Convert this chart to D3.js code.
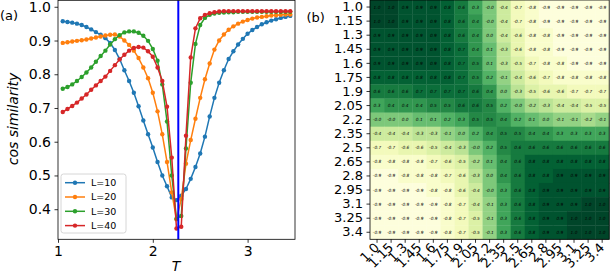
<!DOCTYPE html>
<html><head><meta charset="utf-8">
<script src="https://cdn.jsdelivr.net/npm/d3@7"></script>
<style>body{margin:0;background:#fff}svg{display:block;font-family:"DejaVu Sans",sans-serif}</style>
</head><body><svg id="c" width="610" height="278"></svg>
<script>
// ---------- panel (a) data ----------
const T = [1.05,1.10,1.15,1.20,1.25,1.30,1.35,1.40,1.45,1.50,1.55,1.60,1.65,1.70,1.75,1.80,1.85,1.90,1.95,2.00,
           2.05,2.10,2.15,2.20,2.25,2.30,2.35,2.40,2.45,2.50,2.55,2.60,2.65,2.70,2.75,2.80,2.85,2.90,2.95,3.00,
           3.05,3.10,3.15,3.20,3.25,3.30,3.35,3.40,3.45];
const L10 = [0.957,0.955,0.953,0.950,0.946,0.940,0.933,0.925,0.917,0.907,0.893,0.872,0.845,0.812,0.780,0.745,0.705,0.663,0.622,0.583,
             0.540,0.500,0.468,0.435,0.427,0.440,0.460,0.490,0.525,0.565,0.615,0.675,0.730,0.775,0.812,0.845,0.868,0.888,0.905,0.920,
             0.931,0.940,0.948,0.954,0.959,0.963,0.967,0.970,0.973];
const L20 = [0.893,0.895,0.897,0.899,0.901,0.903,0.906,0.909,0.912,0.915,0.917,0.918,0.912,0.900,0.887,0.870,0.848,0.820,0.788,0.745,
             0.690,0.622,0.540,0.450,0.370,0.430,0.535,0.605,0.668,0.730,0.785,0.832,0.873,0.900,0.918,0.932,0.942,0.950,0.956,0.961,
             0.965,0.968,0.970,0.972,0.974,0.975,0.976,0.977,0.977];
const L30 = [0.757,0.762,0.770,0.780,0.792,0.805,0.820,0.837,0.854,0.870,0.888,0.904,0.916,0.924,0.927,0.927,0.923,0.914,0.899,0.875,
             0.840,0.770,0.660,0.500,0.372,0.380,0.580,0.775,0.890,0.946,0.967,0.976,0.980,0.982,0.983,0.984,0.984,0.985,0.985,0.985,
             0.985,0.985,0.985,0.985,0.985,0.985,0.985,0.985,0.985];
const L40 = [0.688,0.697,0.706,0.716,0.728,0.740,0.754,0.767,0.780,0.793,0.810,0.827,0.844,0.858,0.870,0.878,0.881,0.879,0.868,0.852,
             0.820,0.780,0.704,0.553,0.343,0.348,0.618,0.850,0.936,0.966,0.976,0.981,0.984,0.986,0.987,0.987,0.987,0.987,0.987,0.987,
             0.987,0.987,0.987,0.987,0.987,0.987,0.987,0.987,0.987];
const seriesNames = ["L=10","L=20","L=30","L=40"];
const seriesColors = ["#1f77b4","#ff7f0e","#2ca02c","#d62728"];
const Tc = 2.269;
const xTicksA = [1,2,3];
const yTicksA = [0.4,0.5,0.6,0.7,0.8,0.9,1.0];

// ---------- panel (b) data ----------
const hmLabels = ["1.0","1.15","1.3","1.45","1.6","1.75","1.9","2.05","2.2","2.35","2.5","2.65","2.8","2.95","3.1","3.25","3.4"];
const hmRows = [
 [1.0,1.0,0.9,0.9,0.9,0.8,0.6,0.3,-0.0,-0.4,-0.7,-0.8,-0.9,-0.9,-0.9,-0.9,-0.9],
 [1.0,1.0,0.9,0.9,0.9,0.8,0.6,0.4,-0.0,-0.4,-0.7,-0.8,-0.9,-0.9,-0.9,-0.9,-0.9],
 [0.9,0.9,0.9,0.9,0.9,0.8,0.6,0.4,0.0,-0.4,-0.6,-0.8,-0.8,-0.9,-0.9,-0.9,-0.9],
 [0.9,0.9,0.9,0.9,0.9,0.8,0.7,0.4,0.1,-0.3,-0.6,-0.8,-0.8,-0.9,-0.9,-0.9,-0.9],
 [0.9,0.9,0.9,0.9,0.9,0.8,0.7,0.5,0.1,-0.3,-0.5,-0.7,-0.8,-0.8,-0.9,-0.9,-0.9],
 [0.8,0.8,0.8,0.8,0.8,0.8,0.7,0.5,0.2,-0.1,-0.4,-0.6,-0.7,-0.8,-0.8,-0.8,-0.8],
 [0.6,0.6,0.6,0.7,0.7,0.7,0.7,0.6,0.4,0.0,-0.3,-0.5,-0.6,-0.6,-0.7,-0.7,-0.7],
 [0.3,0.4,0.4,0.4,0.5,0.5,0.6,0.6,0.5,0.2,-0.0,-0.2,-0.3,-0.4,-0.4,-0.5,-0.5],
 [-0.0,-0.0,0.0,0.1,0.1,0.2,0.3,0.5,0.5,0.4,0.2,0.1,0.0,-0.1,-0.1,-0.2,-0.1],
 [-0.4,-0.4,-0.4,-0.3,-0.3,-0.1,0.0,0.2,0.4,0.5,0.5,0.4,0.4,0.3,0.3,0.3,0.3],
 [-0.7,-0.7,-0.6,-0.6,-0.5,-0.4,-0.3,-0.0,0.2,0.5,0.6,0.6,0.6,0.6,0.6,0.6,0.6],
 [-0.8,-0.8,-0.8,-0.8,-0.7,-0.6,-0.5,-0.2,0.1,0.4,0.6,0.8,0.8,0.8,0.8,0.8,0.8],
 [-0.9,-0.9,-0.8,-0.8,-0.8,-0.7,-0.6,-0.3,0.0,0.4,0.6,0.8,0.8,0.9,0.9,0.9,0.9],
 [-0.9,-0.9,-0.9,-0.9,-0.8,-0.8,-0.6,-0.4,-0.0,0.3,0.6,0.8,0.9,0.9,0.9,0.9,0.9],
 [-0.9,-0.9,-0.9,-0.9,-0.9,-0.8,-0.7,-0.4,-0.1,0.3,0.6,0.8,0.9,0.9,0.9,1.0,1.0],
 [-0.9,-0.9,-0.9,-0.9,-0.9,-0.8,-0.7,-0.5,-0.1,0.3,0.6,0.8,0.9,0.9,1.0,1.0,1.0],
 [-0.9,-0.9,-0.9,-0.9,-0.9,-0.8,-0.7,-0.5,-0.1,0.3,0.6,0.8,0.9,0.9,1.0,1.0,1.0]
];

const svg = d3.select("#c");
const FS = 14;
const FSH = 13;

// ================= panel (a) =================
const series = [L10,L20,L30,L40];
const allV = series.flat();
const [vmin,vmax] = d3.extent(allV);
const pad = (vmax - vmin) * 0.05;
const x = d3.scaleLinear().domain([1,3.5]).range([58,295]);
const y = d3.scaleLinear().domain([vmin-pad, vmax+pad]).range([239.3,0.3]);

const ga = svg.append("g");
const ax = ga.append("g").attr("transform","translate(0,239.3)")
  .call(d3.axisBottom(x).tickValues(xTicksA).tickFormat(d3.format("d")).tickSize(3.5).tickPadding(3.5));
const ay = ga.append("g").attr("transform","translate(58,0)")
  .call(d3.axisLeft(y).tickValues(yTicksA).tickFormat(d3.format(".1f")).tickSize(3.5).tickPadding(3.5));
[ax,ay].forEach(a=>{a.select(".domain").remove();a.selectAll("text").attr("font-size",FS).attr("font-family","DejaVu Sans").attr("fill","#000");a.selectAll("line").attr("stroke","#000").attr("stroke-width",0.8);});

const line = d3.line().x((d,i)=>x(T[i])).y(d=>y(d));
series.forEach((s,k)=>{
  ga.append("path").datum(s).attr("d",line).attr("fill","none").attr("stroke",seriesColors[k]).attr("stroke-width",1.5);
  ga.selectAll(null).data(s).enter().append("circle")
    .attr("cx",(d,i)=>x(T[i])).attr("cy",d=>y(d)).attr("r",2.2).attr("fill",seriesColors[k]);
});
ga.append("line").attr("x1",x(Tc)).attr("x2",x(Tc)).attr("y1",y.range()[0]).attr("y2",y.range()[1])
  .attr("stroke","#0000ff").attr("stroke-width",2);
ga.append("rect").attr("x",58).attr("y",0.3).attr("width",295-58).attr("height",239)
  .attr("fill","none").attr("stroke","#000").attr("stroke-width",0.8);

// legend
const lg = ga.append("g");
lg.append("rect").attr("x",61).attr("y",174).attr("width",65).attr("height",59).attr("rx",2.5)
  .attr("fill","#fff").attr("fill-opacity",0.8).attr("stroke","#cccccc").attr("stroke-width",0.8);
seriesNames.forEach((n,k)=>{
  const yy = 182.7 + k*14.3;
  lg.append("line").attr("x1",65).attr("x2",85).attr("y1",yy).attr("y2",yy).attr("stroke",seriesColors[k]).attr("stroke-width",1.5);
  lg.append("circle").attr("cx",75).attr("cy",yy).attr("r",2.2).attr("fill",seriesColors[k]);
  lg.append("text").attr("x",91).attr("y",yy).attr("dy","0.35em").attr("font-size",9.5).text(n);
});

ga.append("text").attr("x",0).attr("y",20).attr("font-size",13).text("(a)");
ga.append("text").attr("transform","translate(18,119) rotate(-90)").attr("text-anchor","middle")
  .attr("font-size",FS).attr("font-style","italic").text("cos similarity");
ga.append("text").attr("x",176).attr("y",271).attr("text-anchor","middle")
  .attr("font-size",FS).attr("font-style","italic").text("T");

// ================= panel (b) =================
const gb = svg.append("g");
const xh = d3.scaleBand().domain(hmLabels).range([370,609.2]);
const yh = d3.scaleBand().domain(hmLabels).range([0,239.3]);
const color = d3.scaleSequential(d3.interpolateYlGn).domain([-0.95,1.0]);
const fmt = v => (Object.is(v,-0) ? "-" : "") + v.toFixed(1);

hmRows.forEach((row,r)=>{
  row.forEach((v,c)=>{
    gb.append("rect").attr("x",xh(hmLabels[c])).attr("y",yh(hmLabels[r]))
      .attr("width",xh.bandwidth()+0.3).attr("height",yh.bandwidth()+0.3).attr("fill",color(v));
    gb.append("text").attr("x",xh(hmLabels[c])+xh.bandwidth()/2).attr("y",yh(hmLabels[r])+yh.bandwidth()/2)
      .attr("dy","0.35em").attr("text-anchor","middle").attr("font-size",4.3).attr("font-style","italic")
      .attr("fill","#000").text(fmt(v));
  });
});
gb.append("rect").attr("x",370).attr("y",0).attr("width",239.2).attr("height",239.3)
  .attr("fill","none").attr("stroke","#000").attr("stroke-width",0.8);

const hy = gb.append("g").attr("transform","translate(370,0)")
  .call(d3.axisLeft(yh).tickSize(3.5).tickPadding(3.5));
const hx = gb.append("g").attr("transform","translate(0,239.3)")
  .call(d3.axisBottom(xh).tickSize(3.5).tickPadding(3.5));
[hy,hx].forEach(a=>{a.select(".domain").remove();a.selectAll("text").attr("font-size",FSH).attr("font-family","DejaVu Sans").attr("fill","#000");a.selectAll("line").attr("stroke","#000").attr("stroke-width",0.8);});
hx.selectAll("text").attr("text-anchor","end").attr("dy",null).attr("y",null)
  .attr("transform","translate(3,9) rotate(-45)");

svg.append("text").attr("x",306.5).attr("y",21.5).attr("font-size",13).text("(b)");
</script></body></html>
